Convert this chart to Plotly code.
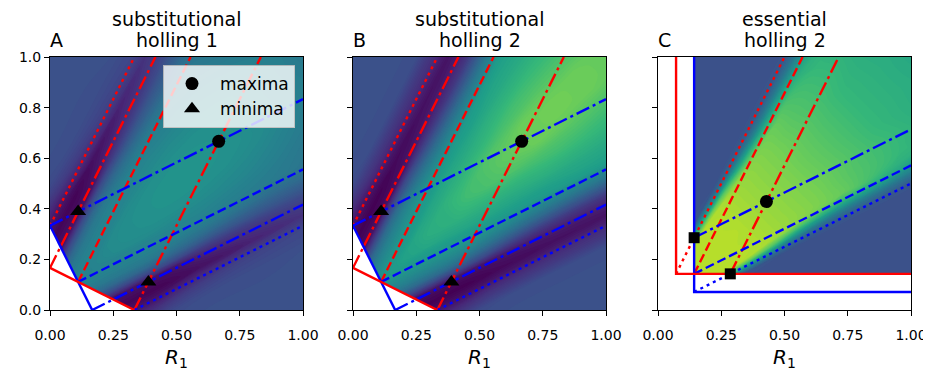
import plotly.graph_objects as go

# ---------------- data ----------------
# The colour maps are read from the picture on a lattice aligned with the two
# families of consumption lines: a = 2*R1 - R2 (constant along red lines) and
# b = 2*R2 - R1 (constant along blue lines).  Values are on a 0..100 viridis scale.
LAT = [-1.0, -0.7, -0.5, -0.4, -0.35, -0.3, -0.25, -0.2, -0.15, -0.1, -0.05, 0.0,
       0.05, 0.1, 0.15, 0.2, 0.3, 0.45, 0.6, 0.8, 1.0, 1.3, 1.6, 2.0]

# row k holds b = LAT[k] and a = LAT[k], LAT[k+1], ... (maps are symmetric in a <-> b)
A_HALF = [
    [25] * 24,
    [25] * 23,
    [21] * 18 + [23, 24, 24, 25],
    [13] * 17 + [18, 21, 22, 23],
    [8] * 16 + [13, 19, 21, 23],
    [4] * 15 + [9, 14, 18, 21],
    [1] * 14 + [4, 9, 14, 16],
    [3] * 13 + [7, 12, 17, 19],
    [6] * 12 + [12, 16, 20, 22],
    [22] * 11 + [20, 21, 23, 24],
    [33] * 9 + [31, 28, 27, 27, 27],
    [40] * 8 + [37, 34, 31, 31, 31],
    [43] * 7 + [41, 39, 35, 35, 35],
    [45] * 6 + [44, 42, 38, 38, 38],
    [44, 45, 45, 45, 45, 45, 43, 41, 36, 31],
    [46, 48, 48, 47, 46, 44, 41, 36, 31],
    [49, 50, 50, 48, 46, 41, 36, 32],
    [51, 51, 50, 47, 41, 35, 31],
    [51, 50, 47, 40, 36, 33],
    [47, 44, 40, 36, 33],
    [41, 39, 37, 35],
    [38, 36, 34],
    [35, 33],
    [32],
]
B_HALF = [
    [25] * 24,
    [25] * 23,
    [21] * 18 + [23, 24, 24, 24],
    [12] * 17 + [15, 16, 16, 16],
    [7] * 16 + [10, 12, 13, 14],
    [3] * 15 + [5, 7, 8, 9],
    [0] * 14 + [2, 4, 5, 6],
    [2] * 13 + [4, 6, 7, 8],
    [6] * 12 + [8, 10, 11, 12],
    [22] * 11 + [18, 16, 16, 16],
    [35] * 9 + [31, 27, 24, 24, 24],
    [43] * 8 + [39, 35, 32, 32, 32],
    [48] * 7 + [45, 42, 40, 40, 40],
    [52] * 6 + [50, 48, 46, 46, 46],
    [54, 54, 54, 54, 54, 54, 54, 54, 54, 53],
    [57, 58, 58, 58, 57, 56, 57, 56, 53],
    [62, 63, 63, 62, 62, 60, 57, 54],
    [69, 71, 70, 69, 65, 60, 57],
    [75, 77, 73, 68, 63, 60],
    [78, 77, 71, 67, 64],
    [76, 74, 71, 67],
    [75, 74, 71],
    [75, 73],
    [75],
]
C_HALF = [
    [25] * 24,
    [25] * 23,
    [25] * 22,
    [25] * 21,
    [25] * 20,
    [25] * 19,
    [25] * 18,
    [25] * 17,
    [25] * 16,
    [25] * 15,
    [29] * 8 + [27] + [25] * 5,
    [70, 70, 70, 70, 70, 70, 66, 49, 33, 29, 28, 27, 26],
    [89, 89, 89, 89, 89, 89, 76, 52, 41, 37, 34, 30],
    [89, 89, 89, 89, 89, 87, 70, 57, 49, 42, 37],
    [88, 89, 89, 89, 86, 81, 70, 60, 47, 44],
    [89, 89, 88, 85, 81, 76, 64, 54, 50],
    [89, 86, 83, 79, 73, 66, 61, 58],
    [83, 80, 75, 70, 64, 60, 57],
    [76, 71, 66, 61, 58, 56],
    [66, 63, 59, 57, 55],
    [60, 58, 56, 54],
    [56, 55, 54],
    [55, 54],
    [54],
]

# substitutional panels (A, B): ZNGIs and consumption-vector lines (x list, y list)
SUB_BLUE_ZNGI = ([0.0, 1 / 6], [1 / 3, 0.0])
SUB_RED_ZNGI = ([0.0, 1 / 3], [1 / 6, 0.0])
SUB_BLUE_DOT = ([1 / 3, 1.0], [0.0, 1 / 3])
SUB_BLUE_DASHDOT_LOW = ([1 / 6, 1.0], [0.0, 5 / 12])
SUB_BLUE_DASH = ([1 / 9, 1.0], [1 / 9, 5 / 9])
SUB_BLUE_DASHDOT_UP = ([0.0, 1.0], [1 / 3, 5 / 6])
SUB_RED_DOT = ([0.0, 1 / 3], [1 / 3, 1.0])
SUB_RED_DASHDOT_LEFT = ([0.0, 5 / 12], [1 / 6, 1.0])
SUB_RED_DASH = ([1 / 9, 5 / 9], [1 / 9, 1.0])
SUB_RED_DASHDOT_RIGHT = ([1 / 3, 5 / 6], [0.0, 1.0])
SUB_MAXIMA = ([2 / 3], [2 / 3])
SUB_MINIMA = ([1 / 9, 7 / 18], [7 / 18, 1 / 9])

# essential panel (C)
ESS_RED_ZNGI = ([1 / 14, 1 / 14, 1.0], [1.0, 1 / 7, 1 / 7])
ESS_BLUE_ZNGI = ([1 / 7, 1 / 7, 1.0], [1.0, 1 / 14, 1 / 14])
ESS_BLUE_DOT = ([1 / 7, 1.0], [1 / 14, 1 / 2])
ESS_BLUE_DASH = ([1 / 7, 1.0], [1 / 7, 4 / 7])
ESS_BLUE_DASHDOT = ([1 / 7, 1.0], [2 / 7, 5 / 7])
ESS_RED_DOT = ([1 / 14, 1 / 2], [1 / 7, 1.0])
ESS_RED_DASH = ([1 / 7, 4 / 7], [1 / 7, 1.0])
ESS_RED_DASHDOT = ([2 / 7, 5 / 7], [1 / 7, 1.0])
ESS_MAXIMA = ([3 / 7], [3 / 7])
ESS_SQUARES = ([1 / 7, 2 / 7], [2 / 7, 1 / 7])

TITLES = [("substitutional", "holling 1"), ("substitutional", "holling 2"), ("essential", "holling 2")]
LETTERS = ["A", "B", "C"]
X_TICKS = [0.0, 0.25, 0.5, 0.75, 1.0]
Y_TICKS = [0.0, 0.2, 0.4, 0.6, 0.8, 1.0]


def mirror(half):
    n = len(half)
    z = [[0] * n for _ in range(n)]
    for i, row in enumerate(half):
        for k, v in enumerate(row):
            z[i][i + k] = v
            z[i + k][i] = v
    return z


# carpet node positions: R1 = (2a + b) / 3, R2 = (a + 2b) / 3
CARPET_X = [[(2 * a + b) / 3 for a in LAT] for b in LAT]
CARPET_Y = [[(a + 2 * b) / 3 for a in LAT] for b in LAT]

# ---------------- styles ----------------
BODY = 8                      # the page body margin that offsets the figure
W, H = 931 - BODY, 371 - BODY
ML, MR, MT = 50 - BODY, 20, 57 - BODY
PW = W - ML - MR
PH = 253
MB = H - MT - PH
PAGE_TOP = 57                 # page y of the plot-area top
DOMAINS = [[0.0, 253 / PW], [303 / PW, 556 / PW], [608 / PW, 1.0]]
FONT = "DejaVu Sans"
LW = 2.4
DASHED = "9px,4px"
DASHDOT = "14px,4px,3px,4px"
DOTTED = "3px,4px"
HIDDEN_AXIS = dict(showgrid=False, showline=False, showticklabels="none", startline=False,
                   endline=False, minorgridcount=0, smoothing=0, gridcolor="rgba(0,0,0,0)",
                   linecolor="rgba(0,0,0,0)")

fig = go.Figure()


def add_line(xy, color, dash, k):
    fig.add_trace(go.Scatter(x=list(xy[0]), y=list(xy[1]), mode="lines",
                             line=dict(color=color, width=LW, dash=dash),
                             xaxis=f"x{k}", yaxis=f"y{k}", showlegend=False,
                             hoverinfo="skip"))


def add_map(half, k):
    cid = f"carpet{k}"
    fig.add_trace(go.Carpet(a=LAT, b=LAT, x=CARPET_X, y=CARPET_Y, carpet=cid,
                            aaxis=HIDDEN_AXIS, baxis=HIDDEN_AXIS,
                            xaxis=f"x{k}", yaxis=f"y{k}"))
    fig.add_trace(go.Contourcarpet(a=LAT, b=LAT, z=mirror(half), carpet=cid,
                                   colorscale="Viridis", zmin=0, zmax=100,
                                   autocontour=False,
                                   contours=dict(start=-0.5, end=100.5, size=1,
                                                 coloring="fill", showlines=False),
                                   line=dict(width=0), showscale=False,
                                   xaxis=f"x{k}", yaxis=f"y{k}"))


def add_white(xs, ys, k):
    fig.add_trace(go.Scatter(x=xs, y=ys, mode="lines", fill="toself", fillcolor="white",
                             line=dict(width=0, color="white"), xaxis=f"x{k}", yaxis=f"y{k}",
                             showlegend=False, hoverinfo="skip"))


for k, half in ((1, A_HALF), (2, B_HALF)):
    add_map(half, k)
    wx = [-0.1, -0.1, SUB_BLUE_ZNGI[0][0], SUB_BLUE_DASH[0][0], SUB_RED_ZNGI[0][1], SUB_RED_ZNGI[0][1], -0.1]
    wy = [-0.1, SUB_BLUE_ZNGI[1][0], SUB_BLUE_ZNGI[1][0], SUB_BLUE_DASH[1][0], SUB_RED_ZNGI[1][1], -0.1, -0.1]
    add_white(wx, wy, k)
    add_line(SUB_RED_DOT, "red", DOTTED, k)
    add_line(SUB_RED_DASHDOT_LEFT, "red", DASHDOT, k)
    add_line(SUB_RED_DASH, "red", DASHED, k)
    add_line(SUB_RED_DASHDOT_RIGHT, "red", DASHDOT, k)
    add_line(SUB_BLUE_DOT, "blue", DOTTED, k)
    add_line(SUB_BLUE_DASHDOT_LOW, "blue", DASHDOT, k)
    add_line(SUB_BLUE_DASH, "blue", DASHED, k)
    add_line(SUB_BLUE_DASHDOT_UP, "blue", DASHDOT, k)
    add_line(SUB_BLUE_ZNGI, "blue", "solid", k)
    add_line(SUB_RED_ZNGI, "red", "solid", k)
    fig.add_trace(go.Scatter(x=SUB_MAXIMA[0], y=SUB_MAXIMA[1], mode="markers", name="maxima",
                             marker=dict(symbol="circle", size=13, color="black"),
                             xaxis=f"x{k}", yaxis=f"y{k}", showlegend=(k == 1),
                             legendrank=1))
    fig.add_trace(go.Scatter(x=SUB_MINIMA[0], y=SUB_MINIMA[1], mode="markers", name="minima",
                             marker=dict(symbol="triangle-up", size=14, color="black"),
                             xaxis=f"x{k}", yaxis=f"y{k}", showlegend=(k == 1),
                             legendrank=2))

# panel C
add_map(C_HALF, 3)
cx = ESS_BLUE_ZNGI[0][0]
cy = ESS_RED_ZNGI[1][1]
add_white([-0.1, -0.1, cx, cx, 1.1, 1.1, -0.1], [-0.1, 1.1, 1.1, cy, cy, -0.1, -0.1], 3)
add_line(ESS_RED_DOT, "red", DOTTED, 3)
add_line(ESS_RED_DASH, "red", DASHED, 3)
add_line(ESS_RED_DASHDOT, "red", DASHDOT, 3)
add_line(ESS_BLUE_DOT, "blue", DOTTED, 3)
add_line(ESS_BLUE_DASH, "blue", DASHED, 3)
add_line(ESS_BLUE_DASHDOT, "blue", DASHDOT, 3)
add_line(ESS_BLUE_ZNGI, "blue", "solid", 3)
add_line(ESS_RED_ZNGI, "red", "solid", 3)
fig.add_trace(go.Scatter(x=ESS_MAXIMA[0], y=ESS_MAXIMA[1], mode="markers",
                         marker=dict(symbol="circle", size=13, color="black"),
                         xaxis="x3", yaxis="y3", showlegend=False))
fig.add_trace(go.Scatter(x=ESS_SQUARES[0], y=ESS_SQUARES[1], mode="markers",
                         marker=dict(symbol="square", size=11, color="black"),
                         xaxis="x3", yaxis="y3", showlegend=False))

layout = dict(
    width=W, height=H,
    margin=dict(l=ML, r=MR, t=MT, b=MB, pad=0, autoexpand=False),
    paper_bgcolor="white", plot_bgcolor="white",
    font=dict(family=FONT, size=14, color="black"),
    legend=dict(x=(163 - 50) / PW, y=1 - (65 - PAGE_TOP) / PH, xanchor="left", yanchor="top",
                bgcolor="rgba(255,255,255,0.8)", bordercolor="rgba(190,190,190,0.9)",
                borderwidth=1, font=dict(size=17, family=FONT), itemwidth=46,
                tracegroupgap=0),
)
annotations = []
for k in range(3):
    sfx = "" if k == 0 else str(k + 1)
    layout[f"xaxis{sfx}"] = dict(
        domain=DOMAINS[k], range=[0, 1], anchor=f"y{sfx}" if sfx else "y",
        tickvals=X_TICKS, ticktext=[f"{v:.2f}" for v in X_TICKS],
        ticks="outside", ticklen=5, tickwidth=1, tickcolor="black",
        ticklabelstandoff=7,
        showline=True, mirror=True, linecolor="black", linewidth=1,
        showgrid=False, zeroline=False, tickfont=dict(size=14),
        title=dict(text="<i>R</i><sub>1</sub>", font=dict(size=20), standoff=8),
    )
    layout[f"yaxis{sfx}"] = dict(
        domain=[0, 1], range=[0, 1], anchor=f"x{sfx}" if sfx else "x",
        tickvals=Y_TICKS, ticktext=[f"{v:.1f}" for v in Y_TICKS],
        showticklabels=(k == 0),
        ticks="outside", ticklen=5, tickwidth=1, tickcolor="black",
        showline=True, mirror=True, linecolor="black", linewidth=1,
        showgrid=False, zeroline=False, tickfont=dict(size=14),
    )
    cxp = (DOMAINS[k][0] + DOMAINS[k][1]) / 2
    l1, l2 = TITLES[k]
    annotations.append(dict(text=l1, x=cxp, y=1 + (PAGE_TOP - 18.5) / PH, xref="paper", yref="paper",
                            xanchor="center", yanchor="middle", showarrow=False,
                            font=dict(size=19, family=FONT)))
    annotations.append(dict(text=l2, x=cxp, y=1 + (PAGE_TOP - 40) / PH, xref="paper", yref="paper",
                            xanchor="center", yanchor="middle", showarrow=False,
                            font=dict(size=19, family=FONT)))
    annotations.append(dict(text=LETTERS[k], x=DOMAINS[k][0], y=1 + (PAGE_TOP - 40.5) / PH,
                            xref="paper", yref="paper", xanchor="left", yanchor="middle",
                            showarrow=False, xshift=-2, font=dict(size=19, family=FONT)))
layout["annotations"] = annotations
fig.update_layout(**layout)

fig.write_html("out.html")
